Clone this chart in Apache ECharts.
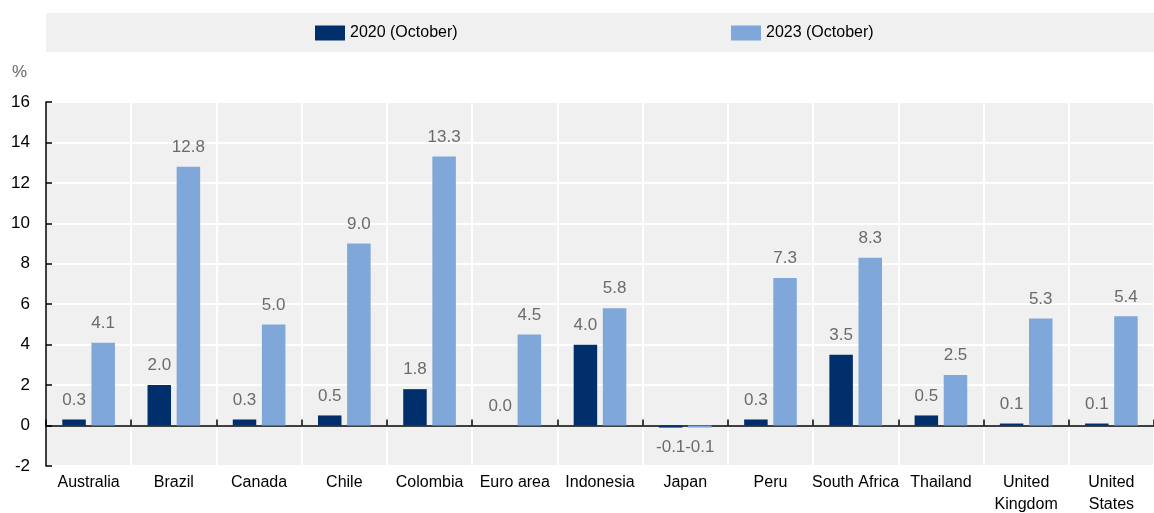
<!DOCTYPE html>
<html>
<head>
<meta charset="utf-8">
<script src="https://cdn.jsdelivr.net/npm/echarts@6/dist/echarts.min.js"></script>
<style>
  html, body { margin: 0; padding: 0; background: #fff; }
  #chart { width: 1154px; height: 513px; }
</style>
</head>
<body>
<div id="chart"></div>
<script>
var countries = ["Australia", "Brazil", "Canada", "Chile", "Colombia", "Euro area", "Indonesia",
  "Japan", "Peru", "South Africa", "Thailand", "United\nKingdom", "United\nStates"];
var oct2020 = [0.3, 2.0, 0.3, 0.5, 1.8, 0.0, 4.0, -0.1, 0.3, 3.5, 0.5, 0.1, 0.1];
var oct2023 = [4.1, 12.8, 5.0, 9.0, 13.3, 4.5, 5.8, -0.1, 7.3, 8.3, 2.5, 5.3, 5.4];
var yTicks = [-2, 0, 2, 4, 6, 8, 10, 12, 14, 16];

var font = '"Liberation Sans", Arial, sans-serif';

// negative values get their label under the bar
function withLabels(values) {
  return values.map(function (v) {
    return { value: v, label: { position: v < 0 ? "bottom" : "top" } };
  });
}

var myChart = echarts.init(document.getElementById("chart"));

myChart.setOption({
  animation: false,
  textStyle: { fontFamily: font },
  graphic: [
    { type: "rect", shape: { x: 46, y: 13, width: 1108, height: 39 }, style: { fill: "#f0f0f0" }, z: -1 },
    { type: "text", left: 12, top: 64, style: { text: "%", fill: "#666", font: "17px " + font } }
  ],
  legend: [
    {
      data: ["2020 (October)"], left: 315, top: 25, padding: 0, itemWidth: 30, itemHeight: 15, itemGap: 12,
      icon: "rect",
      textStyle: { fontSize: 16, color: "#000", fontFamily: font }
    },
    {
      data: ["2023 (October)"], left: 731, top: 25, padding: 0, itemWidth: 30, itemHeight: 15, itemGap: 12,
      icon: "rect",
      textStyle: { fontSize: 16, color: "#000", fontFamily: font }
    }
  ],
  grid: {
    left: 46, right: 0, top: 102, bottom: 47,
    outerBoundsMode: "none", containLabel: false,
    backgroundColor: "#f0f0f0", show: true, borderWidth: 0
  },
  xAxis: [
    {
      // labels and vertical grid lines at the bottom
      type: "category",
      data: countries,
      position: "bottom",
      axisLine: { show: false, onZero: false },
      axisTick: { show: false },
      axisLabel: { color: "#000", fontSize: 16, fontFamily: font, margin: 6, lineHeight: 22, interval: 0 },
      splitLine: { show: true, lineStyle: { color: "#fff", width: 2 } }
    },
    {
      // the zero line with its ticks
      type: "category",
      data: countries,
      position: "bottom",
      axisLine: { show: true, onZero: true, lineStyle: { color: "#000", width: 1.5 } },
      axisTick: { show: true, inside: true, length: 6, lineStyle: { color: "#000", width: 1.5 } },
      axisLabel: { show: false },
      splitLine: { show: false }
    }
  ],
  yAxis: {
    type: "value",
    min: -2,
    max: 16,
    interval: 2,
    axisLine: { show: true, lineStyle: { color: "#000", width: 1.5 } },
    axisTick: { show: true, inside: true, length: 6, lineStyle: { color: "#000", width: 1.5 } },
    axisLabel: {
      color: "#000", fontSize: 17, fontFamily: font, margin: 16,
      formatter: function (v) { return yTicks.indexOf(v) >= 0 ? String(v) : ""; }
    },
    splitLine: { show: true, lineStyle: { color: "#fff", width: 2 } }
  },
  series: [
    {
      name: "2020 (October)",
      type: "bar",
      xAxisIndex: 0,
      data: withLabels(oct2020),
      barWidth: 23.5,
      barGap: "24%",
      itemStyle: { color: "#002F6C" },
      label: {
        show: true, distance: 11, color: "#6b6b6b", fontSize: 17, fontFamily: font,
        formatter: function (p) { return p.value.toFixed(1); }
      }
    },
    {
      name: "2023 (October)",
      type: "bar",
      xAxisIndex: 0,
      data: withLabels(oct2023),
      barWidth: 23.5,
      barGap: "24%",
      itemStyle: { color: "#7FA7D9" },
      label: {
        show: true, distance: 11, color: "#6b6b6b", fontSize: 17, fontFamily: font,
        formatter: function (p) { return p.value.toFixed(1); }
      }
    }
  ]
});
</script>
</body>
</html>
